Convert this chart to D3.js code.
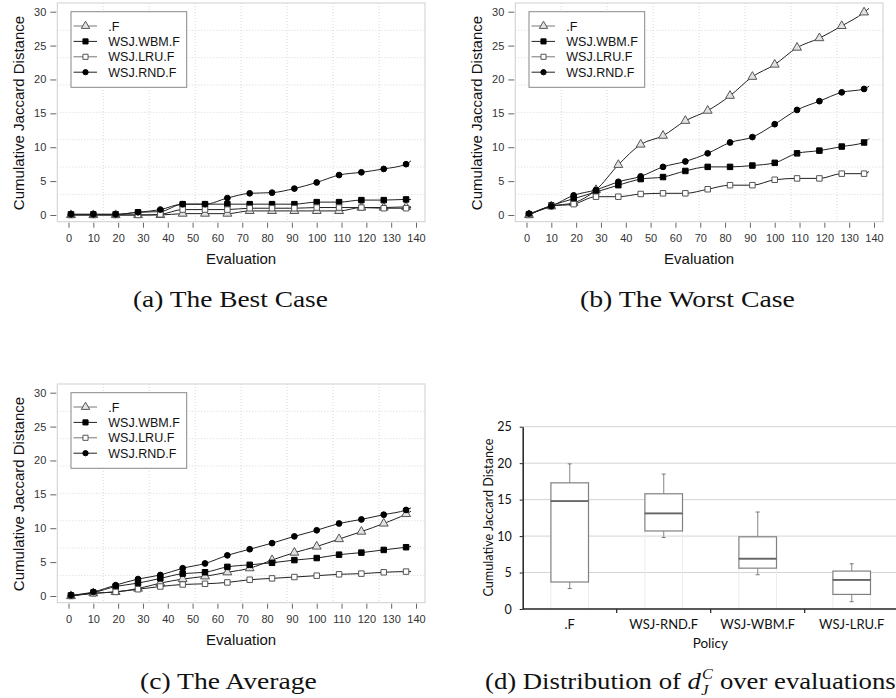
<!DOCTYPE html>
<html>
<head>
<meta charset="utf-8">
<script src="https://cdn.jsdelivr.net/npm/d3@7"></script>
<style>
  body { margin: 0; background: #fff; }
  svg { display: block; }
</style>
</head>
<body>
<div id="chart"></div>
<script>
// evaluation numbers where the markers sit (last value = end of the line)
var evals = [1, 10, 19, 28, 37, 46, 55, 64, 73, 82, 91, 100, 109, 118, 127, 136, 138];
var seriesNames = [".F", "WSJ.WBM.F", "WSJ.LRU.F", "WSJ.RND.F"];
var xTicks = [0, 10, 20, 30, 40, 50, 60, 70, 80, 90, 100, 110, 120, 130, 140];
var yTicks = [0, 5, 10, 15, 20, 25, 30];

// (a) the best case
var bestF   = [0, 0, 0, 0, 0, 0.2, 0.2, 0.2, 0.6, 0.6, 0.6, 0.6, 0.6, 1.1, 1.1, 1.2, 1.2];
var bestWBM = [0.1, 0.1, 0.1, 0.4, 0.5, 1.6, 1.6, 1.6, 1.6, 1.6, 1.6, 1.9, 1.9, 2.2, 2.2, 2.3, 2.3];
var bestLRU = [0, 0, 0, 0, 0.1, 0.8, 0.8, 0.8, 1.0, 1.0, 1.0, 1.1, 1.1, 1.1, 1.0, 1.0, 1.1];
var bestRND = [0.1, 0.1, 0.1, 0.4, 0.8, 1.6, 1.6, 2.5, 3.2, 3.3, 3.9, 4.8, 5.9, 6.3, 6.8, 7.5, 8.0];

// (b) the worst case
var worstF   = [0, 1.3, 1.8, 3.7, 7.4, 10.4, 11.7, 13.9, 15.4, 17.6, 20.4, 22.2, 24.7, 26.1, 27.9, 29.9, 30.5];
var worstWBM = [0.1, 1.4, 2.4, 3.4, 4.4, 5.3, 5.6, 6.5, 7.1, 7.1, 7.3, 7.7, 9.1, 9.5, 10.1, 10.7, 11.3];
var worstLRU = [0, 1.3, 1.6, 2.7, 2.7, 3.1, 3.2, 3.2, 3.8, 4.4, 4.4, 5.2, 5.4, 5.4, 6.1, 6.1, 6.4];
var worstRND = [0.2, 1.3, 2.9, 3.7, 4.9, 5.7, 7.1, 7.9, 9.1, 10.7, 11.5, 13.4, 15.5, 16.8, 18.1, 18.6, 19.0];

// (c) the average
var avgF   = [0, 0.4, 0.6, 1.1, 1.9, 2.5, 2.9, 3.5, 4.1, 5.3, 6.4, 7.3, 8.4, 9.5, 10.7, 12.1, 12.5];
var avgWBM = [0.1, 0.5, 1.4, 1.9, 2.6, 3.3, 3.5, 4.3, 4.6, 4.9, 5.3, 5.6, 6.1, 6.4, 6.8, 7.2, 7.3];
var avgLRU = [0, 0.4, 0.6, 1.0, 1.4, 1.7, 1.8, 2.0, 2.4, 2.6, 2.8, 3.0, 3.2, 3.3, 3.5, 3.6, 3.6];
var avgRND = [0.1, 0.6, 1.6, 2.5, 3.1, 4.1, 4.8, 6.0, 6.9, 7.8, 8.8, 9.7, 10.7, 11.3, 12.0, 12.7, 13.0];

// (d) distribution over evaluations (box plot)
var policies = [".F", "WSJ-RND.F", "WSJ-WBM.F", "WSJ-LRU.F"];
var boxMin = [2.8, 9.8, 4.7, 1.0];
var boxQ1  = [3.7, 10.7, 5.6, 2.0];
var boxMed = [14.8, 13.1, 6.9, 4.0];
var boxQ3  = [17.3, 15.8, 9.9, 5.2];
var boxMax = [19.9, 18.5, 13.3, 6.2];
var boxYTicks = [0, 5, 10, 15, 20, 25];

var svg = d3.select("#chart").append("svg")
  .attr("width", 896)
  .attr("height", 698);

// marker look of each series
var styles = [
  { sym: d3.symbolTriangle, size: 34, fill: "#e2e2e2", stroke: "#555", leg: "#777" },
  { sym: d3.symbolSquare, size: 30, fill: "#000", stroke: "#000", leg: "#222" },
  { sym: d3.symbolSquare, size: 30, fill: "#fff", stroke: "#555", leg: "#777" },
  { sym: d3.symbolCircle, size: 26, fill: "#000", stroke: "#000", leg: "#222" }
];

function linePanel(dx, dy, data) {
  var g = svg.append("g").attr("transform", "translate(" + dx + "," + dy + ")");
  var x = d3.scaleLinear().domain([0, 140]).range([68.5, 416]);
  var y = d3.scaleLinear().domain([0, 30]).range([215, 11.7]);
  var bx0 = 57.3, bx1 = 425, by0 = 3, by1 = 221.7;

  // dotted grid, plot region split in 8
  for (var i = 1; i < 8; i++) {
    var gx = bx0 + (bx1 - bx0) * i / 8, gy = by0 + (by1 - by0) * i / 8;
    g.append("line").attr("x1", gx).attr("x2", gx).attr("y1", by0).attr("y2", by1)
      .attr("stroke", "#d8d8d8").attr("stroke-dasharray", "1,2");
    g.append("line").attr("x1", bx0).attr("x2", bx1).attr("y1", gy).attr("y2", gy)
      .attr("stroke", "#d8d8d8").attr("stroke-dasharray", "1,2");
  }
  g.append("rect").attr("x", bx0).attr("y", by0)
    .attr("width", bx1 - bx0).attr("height", by1 - by0)
    .attr("fill", "none").attr("stroke", "#cfcfcf");

  // axes (ticks only, like R with no axis line)
  var xa = g.append("g").attr("transform", "translate(0," + (by1 + 1) + ")")
    .call(d3.axisBottom(x).tickValues(xTicks).tickSize(5).tickPadding(7));
  var ya = g.append("g").attr("transform", "translate(" + (bx0 - 1) + ",0)")
    .call(d3.axisLeft(y).tickValues(yTicks).tickSize(6).tickPadding(4));
  [xa, ya].forEach(function (a) {
    a.select(".domain").remove();
    a.attr("font-family", "Liberation Sans, Arial, sans-serif").attr("font-size", 11);
    a.selectAll("line").attr("stroke", "#666");
    a.selectAll("text").attr("fill", "#333");
  });

  // axis titles
  g.append("text")
    .attr("x", (bx0 + bx1) / 2).attr("y", 263.5)
    .attr("text-anchor", "middle")
    .attr("font-family", "Liberation Sans, Arial, sans-serif").attr("font-size", 15)
    .attr("fill", "#111")
    .text("Evaluation");
  g.append("text")
    .attr("transform", "translate(23.5,113) rotate(-90)")
    .attr("text-anchor", "middle")
    .attr("font-family", "Liberation Sans, Arial, sans-serif").attr("font-size", 15)
    .attr("fill", "#111")
    .text("Cumulative Jaccard Distance");

  // series: line then markers
  var line = d3.line()
    .x(function (d, i) { return x(evals[i]); })
    .y(function (d) { return y(d); })
    .curve(d3.curveMonotoneX);

  data.forEach(function (vals, k) {
    var st = styles[k];
    g.append("path").datum(vals)
      .attr("d", line)
      .attr("fill", "none")
      .attr("stroke", "#222")
      .attr("stroke-width", 1);
    g.selectAll(".m" + k)
      .data(vals.slice(0, evals.length - 1))
      .join("path")
      .attr("class", "m" + k)
      .attr("transform", function (d, i) { return "translate(" + x(evals[i]) + "," + y(d) + ")"; })
      .attr("d", d3.symbol().type(st.sym).size(st.size))
      .attr("fill", st.fill)
      .attr("stroke", st.stroke)
      .attr("stroke-width", 1);
  });

  // legend
  var lg = g.append("g");
  lg.append("rect").attr("x", 71).attr("y", 11.7)
    .attr("width", 115.7).attr("height", 75.6)
    .attr("fill", "#fff").attr("stroke", "#888");
  seriesNames.forEach(function (name, k) {
    var st = styles[k], ry = 26 + k * 15.4;
    lg.append("line").attr("x1", 73.5).attr("x2", 97).attr("y1", ry).attr("y2", ry)
      .attr("stroke", st.leg).attr("stroke-width", 1);
    lg.append("path")
      .attr("transform", "translate(85.5," + ry + ")")
      .attr("d", d3.symbol().type(st.sym).size(st.size - 4))
      .attr("fill", st.fill).attr("stroke", st.stroke);
    lg.append("text").attr("x", 108.3).attr("y", ry + 4.5)
      .attr("font-family", "Liberation Sans, Arial, sans-serif").attr("font-size", 12.5)
      .attr("fill", "#111")
      .text(name);
  });
}

linePanel(0, 0, [bestF, bestWBM, bestLRU, bestRND]);
linePanel(458, 0, [worstF, worstWBM, worstLRU, worstRND]);
linePanel(0, 381, [avgF, avgWBM, avgLRU, avgRND]);

// ---- (d) box plot ----
var calibri = "Lato, 'Open Sans', sans-serif";
var gd = svg.append("g");
var xb = d3.scaleBand().domain(policies).range([522.7, 898.7]);
var yb = d3.scaleLinear().domain([0, 25]).range([609, 426.7]);

gd.selectAll(".hg").data(boxYTicks.slice(1)).join("line")
  .attr("class", "hg")
  .attr("x1", 522.7).attr("x2", 896)
  .attr("y1", function (d) { return yb(d); }).attr("y2", function (d) { return yb(d); })
  .attr("stroke", "#d4d4d4").attr("stroke-width", 1);

var bw = xb.bandwidth() * 0.4;
policies.forEach(function (p, i) {
  var cx = xb(p) + xb.bandwidth() / 2, left = cx - bw / 2;
  // faint edges of the hidden base bar
  [left, left + bw].forEach(function (ex) {
    gd.append("line").attr("x1", ex).attr("x2", ex)
      .attr("y1", yb(0)).attr("y2", yb(boxQ1[i]))
      .attr("stroke", "#ececec");
  });
  // whiskers
  gd.append("line").attr("x1", cx).attr("x2", cx)
    .attr("y1", yb(boxQ3[i])).attr("y2", yb(boxMax[i]))
    .attr("stroke", "#999").attr("stroke-width", 1.2);
  gd.append("line").attr("x1", cx).attr("x2", cx)
    .attr("y1", yb(boxQ1[i])).attr("y2", yb(boxMin[i]))
    .attr("stroke", "#999").attr("stroke-width", 1.2);
  [boxMax[i], boxMin[i]].forEach(function (v) {
    gd.append("line").attr("x1", cx - 2).attr("x2", cx + 2)
      .attr("y1", yb(v)).attr("y2", yb(v))
      .attr("stroke", "#777").attr("stroke-width", 1);
  });
  // box (two stacked halves)
  gd.append("rect").attr("x", left).attr("width", bw)
    .attr("y", yb(boxMed[i])).attr("height", yb(boxQ1[i]) - yb(boxMed[i]))
    .attr("fill", "#fff").attr("stroke", "#808080").attr("stroke-width", 1.2);
  gd.append("rect").attr("x", left).attr("width", bw)
    .attr("y", yb(boxQ3[i])).attr("height", yb(boxMed[i]) - yb(boxQ3[i]))
    .attr("fill", "#fff").attr("stroke", "#808080").attr("stroke-width", 1.2);
  gd.append("line").attr("x1", left).attr("x2", left + bw)
    .attr("y1", yb(boxMed[i])).attr("y2", yb(boxMed[i]))
    .attr("stroke", "#666").attr("stroke-width", 1.8);
});

var yAx = gd.append("g").attr("transform", "translate(522.7,0)")
  .call(d3.axisLeft(yb).tickValues(boxYTicks).tickSize(3).tickSizeOuter(0).tickPadding(8));
var xAx = gd.append("g").attr("transform", "translate(0,609)")
  .call(d3.axisBottom(xb).tickSize(0).tickSizeOuter(0).tickPadding(11));
[yAx, xAx].forEach(function (a) {
  a.attr("font-family", calibri);
  a.select(".domain").attr("stroke", "#222").attr("stroke-width", 1.5);
  a.selectAll("line").attr("stroke", "#222");
  a.selectAll("text").attr("fill", "#111");
});
yAx.attr("font-size", 12.5);
xAx.attr("font-size", 13);
xAx.select(".domain").attr("d", "M522.7,0H896");
// category separators
d3.range(1, policies.length).forEach(function (i) {
  var tx = xb.range()[0] + xb.step() * i;
  xAx.append("line").attr("x1", tx).attr("x2", tx).attr("y1", 0).attr("y2", 4)
    .attr("stroke", "#222").attr("stroke-width", 1.2);
});

gd.append("text").attr("x", 710.3).attr("y", 647.5)
  .attr("text-anchor", "middle")
  .attr("font-family", calibri).attr("font-size", 13.5).attr("fill", "#111")
  .text("Policy");
gd.append("text")
  .attr("transform", "translate(493,517.5) rotate(-90)")
  .attr("text-anchor", "middle")
  .attr("font-family", calibri).attr("font-size", 13)
  .attr("textLength", 158).attr("lengthAdjust", "spacingAndGlyphs")
  .attr("fill", "#111")
  .text("Cumulative Jaccard Distance");

// ---- captions ----
var serif = "'Liberation Serif', 'DejaVu Serif', serif";
function caption(x0, width, baseline, build) {
  var cg = svg.append("g");
  var t = cg.append("text").attr("x", 0).attr("y", baseline)
    .attr("font-family", serif).attr("font-size", 23).attr("fill", "#111");
  build(t);
  var w = t.node().getBBox().width;
  cg.attr("transform", "translate(" + x0 + ",0) scale(" + (width / w) + ",1)");
}
caption(133, 195, 307, function (t) { t.text("(a) The Best Case"); });
caption(580, 215, 307, function (t) { t.text("(b) The Worst Case"); });
caption(140, 177, 689, function (t) { t.text("(c) The Average"); });
caption(485, 411, 689, function (t) {
  t.append("tspan").text("(d) Distribution of ");
  t.append("tspan").attr("font-style", "italic").text("d");
  t.append("tspan").attr("font-style", "italic").attr("font-size", 14).attr("dx", 1).attr("dy", -10).text("C");
  t.append("tspan").attr("font-style", "italic").attr("font-size", 14).attr("dx", -10).attr("dy", 16).text("J");
  t.append("tspan").attr("dx", 4).attr("dy", -6).text(" over evaluations");
});
</script>
</body>
</html>
